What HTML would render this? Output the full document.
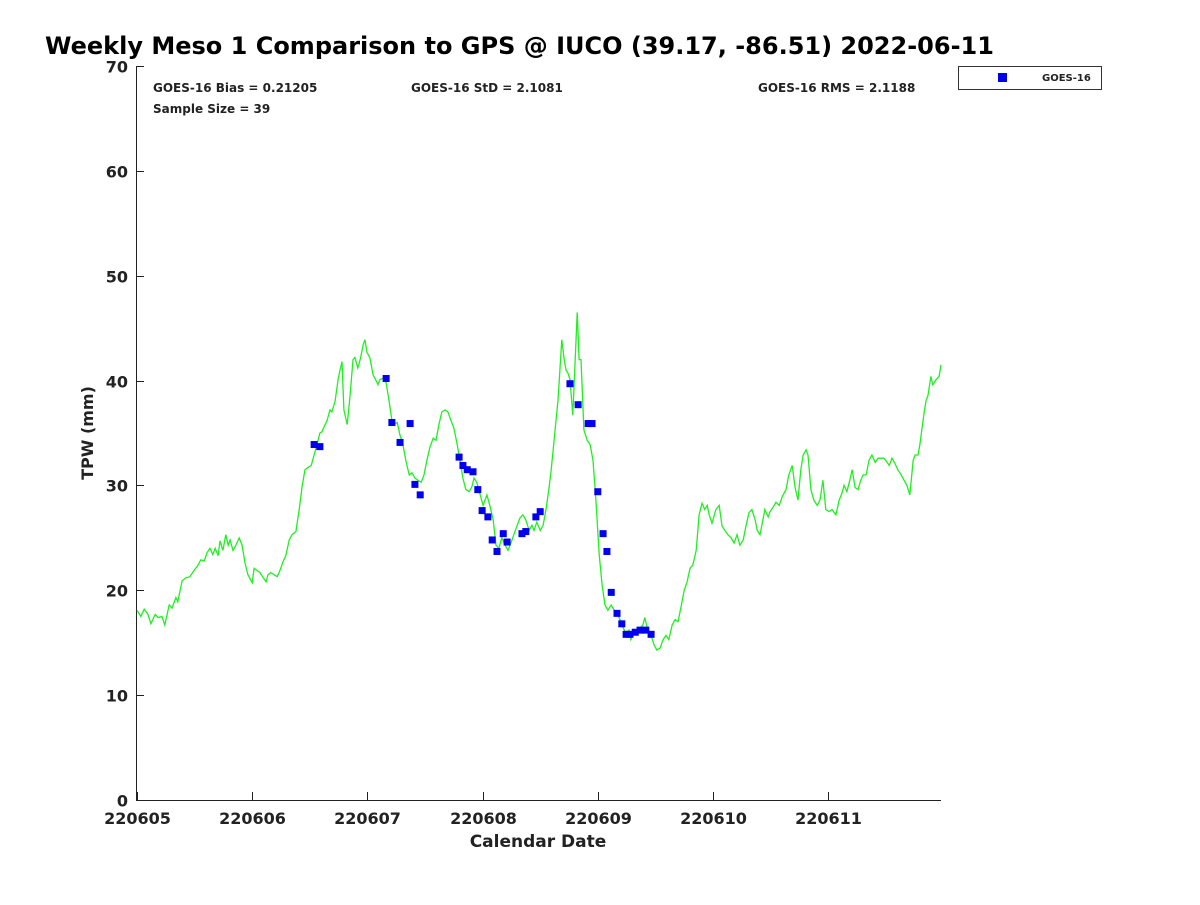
<!DOCTYPE html>
<html><head><meta charset="utf-8"><style>
body{margin:0;background:#fff;}
svg text{font-family:"DejaVu Sans","Liberation Sans",sans-serif;font-weight:bold;fill:#222;}
</style></head><body>
<svg id="chart" width="1200" height="900" xmlns="http://www.w3.org/2000/svg">
<rect width="1200" height="900" fill="#fff"/>
<text x="45" y="54" font-size="24" style="fill:#000">Weekly Meso 1 Comparison to GPS @ IUCO (39.17, -86.51) 2022-06-11</text>
<g id="axes"></g>
<g id="series"></g>
<text x="153" y="92" font-size="12">GOES-16 Bias = 0.21205</text>
<text x="153" y="113" font-size="12">Sample Size = 39</text>
<text x="411" y="92" font-size="12">GOES-16 StD = 2.1081</text>
<text x="758" y="92" font-size="12">GOES-16 RMS = 2.1188</text>
<g>
<rect x="958.5" y="66.5" width="143" height="23" fill="#fff" stroke="#333"/>
<rect x="998" y="73" width="9" height="9" fill="#0000ee"/>
<text x="1042" y="81" font-size="10">GOES-16</text>
</g>
<text x="538" y="847" font-size="17" text-anchor="middle">Calendar Date</text>
<text transform="translate(93,433) rotate(-90)" font-size="16" text-anchor="middle">TPW (mm)</text>
</svg>
<script>
const gpsHours=[0,0.8,1.5,2.3,2.9,3.8,4.4,5.2,5.8,6.7,7.3,8.1,8.5,9.4,10.2,11.0,11.9,12.7,13.3,14.0,14.6,15.2,15.8,16.3,16.9,17.3,17.9,18.5,19.0,19.4,20.0,20.6,21.3,21.9,22.5,23.1,24.0,24.4,25.0,25.6,26.3,26.9,27.3,27.9,28.5,29.2,29.8,30.4,31.0,31.7,32.3,33.1,33.8,34.4,35.0,35.6,36.3,36.9,37.5,38.1,38.5,39.0,39.6,40.2,40.6,41.3,41.9,42.3,42.7,43.1,43.8,44.4,45.0,45.4,46.0,46.5,47.1,47.5,47.9,48.5,49.2,49.6,50.2,50.6,51.3,51.9,52.5,53.1,53.5,54.2,54.8,55.4,56.0,56.7,57.3,57.9,58.5,59.2,59.8,60.4,61.0,61.7,62.3,62.9,63.5,64.2,64.8,65.4,66.0,66.7,67.3,67.9,68.5,69.2,69.8,70.2,70.8,71.5,72.1,72.5,72.9,73.5,74.2,74.8,75.4,76.0,76.7,77.3,77.9,78.5,79.2,79.8,80.4,81.0,81.7,82.3,82.7,83.3,84.0,84.6,85.2,85.8,86.3,86.9,87.3,87.7,88.1,88.5,89.0,89.4,89.8,90.2,90.8,91.3,91.7,92.1,92.5,93.1,93.8,94.4,95.0,95.6,96.3,96.9,97.5,98.1,98.8,99.4,100.0,100.6,101.3,101.9,102.5,102.9,103.5,104.2,104.8,105.4,105.8,106.5,107.1,107.7,108.3,109.0,109.6,110.2,110.8,111.5,112.1,112.7,113.3,114.0,114.6,115.2,115.8,116.5,117.1,117.7,118.3,118.8,119.2,119.8,120.6,121.3,121.9,122.5,123.1,123.8,124.4,125.0,125.6,126.3,126.9,127.5,128.1,128.8,129.2,129.8,130.4,130.8,131.5,131.9,132.5,133.1,133.8,134.4,135.2,135.8,136.5,137.1,137.7,138.3,138.8,139.4,139.8,140.4,141.0,141.7,142.3,142.9,143.5,144.2,144.8,145.6,146.3,146.9,147.3,147.9,148.5,149.0,149.6,150.2,150.8,151.3,151.9,152.5,153.1,153.8,154.4,155.0,155.6,156.3,156.7,157.3,157.9,158.5,159.2,159.8,160.4,161.0,161.7,162.1,162.7,163.1,163.5,164.0,164.4,164.8,165.4,165.8,166.5,167.1,167.5];
const gpsTPW=[18.1,17.5,18.2,17.7,16.8,17.7,17.4,17.5,16.7,18.6,18.3,19.3,18.9,20.9,21.2,21.3,21.9,22.4,22.9,22.8,23.6,24.0,23.4,24.0,23.3,24.7,23.8,25.3,24.3,24.8,23.8,24.3,25.0,24.3,22.6,21.5,20.7,22.1,21.9,21.7,21.2,20.8,21.5,21.7,21.5,21.3,21.9,22.7,23.3,24.8,25.3,25.6,27.7,29.9,31.5,31.7,31.9,32.9,33.9,35.0,35.1,35.6,36.2,37.2,37.0,38.1,40.1,41.0,41.8,37.2,35.8,38.6,42.0,42.2,41.2,42.0,43.4,43.9,42.7,42.2,40.5,40.2,39.6,40.1,40.2,39.8,38.1,36.2,35.8,36.0,34.8,33.9,32.4,31.0,31.2,30.7,30.5,30.3,31.0,32.4,33.6,34.5,34.3,35.8,37.0,37.2,37.0,36.2,35.5,33.9,32.4,30.7,29.6,29.4,29.9,30.7,30.3,29.1,28.1,28.6,29.1,28.1,26.7,24.3,24.0,25.0,24.3,23.8,24.5,25.3,26.2,26.9,27.2,26.7,25.7,26.2,25.7,26.5,25.7,26.2,27.7,29.6,31.5,34.3,36.2,38.1,41.0,43.9,42.0,41.0,40.7,40.1,36.7,42.0,46.5,42.0,42.0,35.3,34.3,33.9,32.4,28.6,23.4,20.5,18.6,18.1,18.6,18.1,17.9,17.2,16.4,15.9,16.2,15.3,16.0,16.2,16.4,16.7,17.4,16.0,15.7,14.8,14.3,14.5,15.3,15.7,15.3,16.7,17.2,17.0,18.3,20.0,20.8,22.1,22.4,23.8,27.2,28.3,27.7,28.1,27.2,26.4,27.7,28.1,26.1,25.7,25.3,25.0,24.5,25.3,24.3,24.8,26.2,27.4,27.7,26.7,25.7,25.3,26.7,27.7,27.0,27.5,27.9,28.4,28.1,28.9,29.6,31.0,31.9,29.8,28.6,31.5,32.9,33.4,32.9,29.6,28.6,28.1,28.6,30.5,27.7,27.5,27.7,27.2,28.6,29.3,30.0,29.4,30.5,31.5,29.8,29.6,30.5,31.0,31.0,32.4,32.9,32.2,32.6,32.6,32.6,32.2,31.9,32.6,32.1,31.5,31.0,30.5,30.0,29.1,32.4,32.9,32.9,33.9,35.3,37.0,38.1,38.6,40.4,39.6,40.1,40.4,41.5];
const goesHours=[36.9,38.1,51.9,53.1,54.8,56.9,57.9,59.0,67.1,67.9,68.8,70.0,71.0,71.9,73.1,74.0,75.0,76.3,77.1,80.2,81.0,83.1,84.0,90.2,91.9,94.0,94.8,96.0,97.1,97.9,98.8,100.0,101.0,101.9,102.7,103.8,104.8,106.0,107.1];
const goesTPW=[33.9,33.7,40.2,36.0,34.1,35.9,30.1,29.1,32.7,31.9,31.5,31.3,29.6,27.6,27.0,24.8,23.7,25.4,24.6,25.4,25.6,27.0,27.5,39.7,37.7,35.9,35.9,29.4,25.4,23.7,19.8,17.8,16.8,15.8,15.8,16.0,16.2,16.2,15.8];
const yTicks=[0,10,20,30,40,50,60,70];
const xTickLabels=["220605","220606","220607","220608","220609","220610","220611"];

const NS="http://www.w3.org/2000/svg";
const L=136,R=941,T=66,B=800;
const xs=h=>137+h*4.8;
const ys=v=>B-v*(B-T)/70;
function mk(tag,attrs,parent){const e=document.createElementNS(NS,tag);for(const k in attrs)e.setAttribute(k,attrs[k]);parent.appendChild(e);return e;}
const ax=document.getElementById('axes'),se=document.getElementById('series');
const frameL=mk('line',{x1:L+.5,y1:T,x2:L+.5,y2:B,stroke:'#222'},ax);


const frameB=mk('line',{x1:L,y1:B+.5,x2:R,y2:B+.5,stroke:'#222'},ax);


yTicks.forEach(v=>{
  const y=Math.round(ys(v))+.5;
  const t=mk('line',{x1:L,y1:y,x2:L+8,y2:y,stroke:'#222'},ax);
  
  
  const tx=mk('text',{x:128,y:y+6,'font-size':16,'text-anchor':'end'},ax);
  tx.textContent=v;
  
  
});
xTickLabels.forEach((lab,i)=>{
  const x=Math.round(xs(i*24))+.5;
  const t=mk('line',{x1:x,y1:B,x2:x,y2:B-8,stroke:'#222'},ax);
  
  
  const tx=mk('text',{x:x,y:824,'font-size':16,'text-anchor':'middle'},ax);
  tx.textContent=lab;
  
  
});
const n=Math.min(gpsHours.length,gpsTPW.length);
let d='';
for(let i=0;i<n;i++)d+=(i?'L':'M')+xs(gpsHours[i]).toFixed(1)+','+ys(gpsTPW[i]).toFixed(1);
const line=mk('path',{d:d,fill:'none',stroke:'#22ee22','stroke-width':1.3},se);


goesHours.forEach((h,i)=>{
  const r=mk('rect',{x:xs(h)-3.5,y:ys(goesTPW[i])-3.5,width:7,height:7,fill:'#0000ee'},se);
  
  
});
</script>
</body></html>
